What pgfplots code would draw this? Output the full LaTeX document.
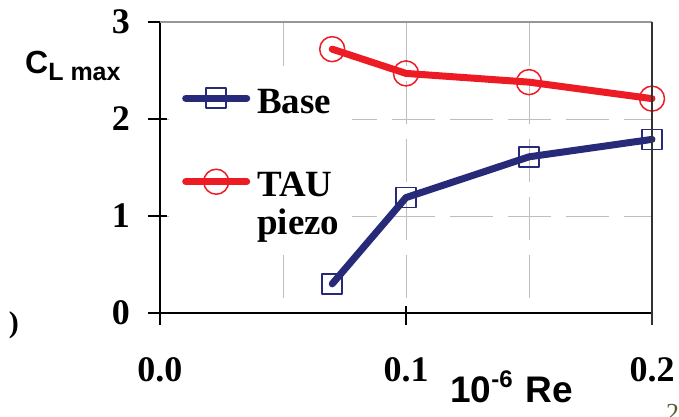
\documentclass[border=0pt]{standalone}
\usepackage{fontspec}
\setmainfont{Liberation Serif}
\newfontfamily\arial{Liberation Sans}
\usepackage{pgfplots}
\pgfplotsset{compat=1.18}
\definecolor{tauRed}{RGB}{237,28,36}
\definecolor{baseBlue}{RGB}{38,42,120}
\definecolor{gridGray}{RGB}{190,190,190}
\definecolor{frameGray}{RGB}{150,150,150}
\definecolor{pageOlive}{RGB}{90,90,50}
\begin{document}
\begin{tikzpicture}
\path[use as bounding box] (-160pt,-104pt) rectangle (519pt,313pt);
\begin{axis}[
  at={(0pt,0pt)}, anchor=south west,
  scale only axis, width=492pt, height=291pt,
  xmin=0, xmax=0.2, ymin=0, ymax=3,
  clip=false,
  axis x line=bottom, axis y line=left,
  axis line style={-, black, line width=1.2pt},
  xtick={0,0.1,0.2}, xticklabels={0.0,0.1,0.2},
  minor xtick={0.05,0.15},
  ytick={0,1,2,3}, yticklabels={0,1,2,3},
  tick align=center, major tick length=19pt, minor tick length=0pt,
  x tick style={black, line width=1.2pt, yshift=-2.5pt},
  y tick style={black, line width=1.2pt, xshift=-2.5pt},
  /pgf/number format/assume math mode=true,
  tick label style={font=\fontsize{36}{36}\selectfont\bfseries},
  xticklabel style={yshift=-32pt},
  yticklabel style={xshift=-17pt},
  grid=both,
  x grid style={gridGray, line width=1pt, dash pattern=on 43pt off 15pt, dash phase=43pt},
  y grid style={gridGray, line width=1pt, dash pattern=on 43pt off 15pt},
  legend cell align=left,
  legend style={at={(0.0183,0.8144)}, anchor=north west, draw=none, fill=white,
    inner xsep=13pt, inner ysep=7pt, row sep=0pt, column sep=7pt,
    cells={anchor=base west},
    nodes={inner sep=0pt, font=\fontsize{37}{37}\selectfont\bfseries}},
  legend image code/.code={%
    \draw[mark repeat=2, mark phase=2, yshift=15pt]
      plot coordinates {(0pt,0pt) (30.5pt,0pt) (61pt,0pt)};},
]
\addplot[baseBlue, line width=7pt, line join=round, line cap=round,
  mark=square, mark size=10pt, mark options={line width=1.5pt, line cap=butt}]
  coordinates {(0.07,0.30) (0.10,1.19) (0.15,1.61) (0.20,1.79)};
\addlegendentry{\rule[-10pt]{0pt}{40pt}Base}
\addplot[tauRed, line width=7pt, line join=round, line cap=round,
  mark=o, mark size=12.5pt, mark options={line width=1.5pt}]
  coordinates {(0.07,2.72) (0.10,2.47) (0.15,2.38) (0.20,2.21)};
\addlegendentry{\rule[-10pt]{0pt}{92pt}TAU}
\addlegendimage{empty legend}
\addlegendentry{\rule[-7pt]{0pt}{43pt}piezo}
\end{axis}
% plot-area frame: light top edge, dark right edge
\draw[frameGray, line width=1.2pt] (0pt,291pt) -- (492pt,291pt);
\draw[black!80, line width=1.2pt] (492pt,-12pt) -- (492pt,291pt);
% axis titles
\node[anchor=base west, inner sep=0pt] at (-135pt,239pt)
  {\arial\bfseries\fontsize{32}{32}\selectfont C\raisebox{-7pt}{\fontsize{25}{25}\selectfont L max}};
\node[anchor=base west, inner sep=0pt] at (290pt,-89pt)
  {\arial\bfseries\fontsize{37}{37}\selectfont 10\raisebox{15pt}{\fontsize{24}{24}\selectfont -6}\hspace{13pt}Re};
% page remnants at the edges
\node[anchor=east, inner sep=0pt] at (-141pt,-12pt) {\fontsize{30}{30}\selectfont\bfseries )};
\node[anchor=base west, inner sep=0pt, text=pageOlive] at (506pt,-108pt) {\fontsize{26}{26}\selectfont 2};
\end{tikzpicture}
\end{document}
